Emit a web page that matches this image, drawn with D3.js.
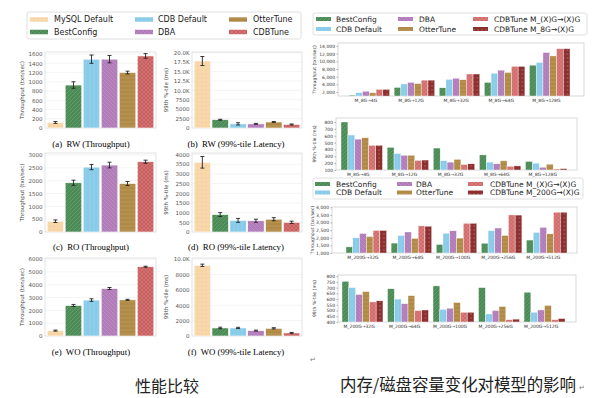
<!DOCTYPE html>
<html>
<head>
<meta charset="utf-8">
<script src="https://cdn.jsdelivr.net/npm/d3@7"></script>
<style>
  body { margin: 0; background: #fff; }
  svg { display: block; }
</style>
</head>
<body>
<script>
// ---- left panel: 6 systems, 3 workloads ----
const systems = ['MySQL Default', 'BestConfig', 'CDB Default', 'DBA', 'OtterTune', 'CDBTune'];

const rwThroughput = [120, 930, 1490, 1490, 1200, 1560];
const rwThroughputErr = [20, 70, 90, 80, 30, 50];
const rwLatency = [17800, 2200, 1100, 1100, 1600, 950];
const rwLatencyErr = [1200, 120, 300, 130, 120, 120];

const roThroughput = [420, 1920, 2530, 2610, 1890, 2740];
const roThroughputErr = [50, 100, 100, 110, 80, 60];
const roLatency = [3600, 900, 600, 580, 660, 500];
const roLatencyErr = [300, 100, 100, 80, 80, 60];

const woThroughput = [420, 2380, 2800, 3700, 2820, 5400];
const woThroughputErr = [40, 80, 100, 80, 40, 40];
const woLatency = [9200, 1050, 1050, 700, 1000, 400];
const woLatencyErr = [150, 100, 80, 60, 80, 60];

// ---- right panel: memory / disk size change ----
const memGroups = ['M_8G→4G', 'M_8G→12G', 'M_8G→32G', 'M_8G→64G', 'M_8G→128G'];
const diskGroups = ['M_200G→32G', 'M_200G→64G', 'M_200G→100G', 'M_200G→256G', 'M_200G→512G'];
const memTuners = ['BestConfig', 'CDB Default', 'DBA', 'OtterTune', 'CDBTune M_(X)G→(X)G', 'CDBTune M_8G→(X)G'];
const diskTuners = ['BestConfig', 'CDB Default', 'DBA', 'OtterTune', 'CDBTune M_(X)G→(X)G', 'CDBTune M_200G→(X)G'];

// one row per group, one value per tuner
const memThroughput = [
  [1200, 1800, 2200, 1800, 2700, 2700],
  [3200, 4100, 4500, 4200, 5100, 5100],
  [3100, 5300, 5600, 5200, 6700, 6700],
  [4500, 6900, 7700, 7100, 8700, 8700],
  [9000, 9700, 12300, 11400, 13300, 13300]
];
const memLatency = [
  [800, 610, 550, 570, 460, 460],
  [430, 340, 315, 315, 240, 245],
  [420, 235, 215, 255, 180, 190],
  [320, 215, 190, 235, 155, 160],
  [225, 200, 140, 185, 115, 120]
];
const diskThroughput = [
  [1400, 2000, 2280, 2080, 2480, 2480],
  [1650, 2150, 2380, 1960, 2780, 2760],
  [1560, 2300, 2460, 1980, 2950, 2950],
  [1640, 2470, 2640, 2150, 3500, 3490],
  [1850, 2350, 2680, 2260, 3680, 3680]
];
const diskLatency = [
  [755, 700, 640, 665, 575, 585],
  [690, 600, 560, 630, 500, 505],
  [715, 510, 520, 570, 485, 485],
  [700, 470, 500, 535, 420, 425],
  [660, 485, 505, 545, 420, 430]
];

const sans = "'DejaVu Sans', sans-serif";
const serif = "'Liberation Serif', 'DejaVu Serif', serif";

const svg = d3.select('body').append('svg')
  .attr('width', 600)
  .attr('height', 398)
  .style('font-family', sans);

const defs = svg.append('defs');

// hatch fills
function pattern(id, color, kind, ink) {
  let p = defs.append('pattern')
    .attr('id', id)
    .attr('patternUnits', 'userSpaceOnUse')
    .attr('width', 4)
    .attr('height', 4);
  p.append('rect').attr('width', 4).attr('height', 4).attr('fill', color);
  let s = ink || 'rgba(255,255,255,0.18)';
  let line = (d) => p.append('path').attr('d', d).attr('stroke', s).attr('stroke-width', 0.7).attr('fill', 'none');
  if (kind === 'dots') p.append('circle').attr('cx', 2).attr('cy', 2).attr('r', 0.7).attr('fill', s);
  if (kind === 'fwd') line('M-1,1L1,-1M0,4L4,0M3,5L5,3');
  if (kind === 'back') line('M-1,3L1,5M0,0L4,4M3,-1L5,1');
  if (kind === 'vert') line('M2,0L2,4');
  if (kind === 'horz') line('M0,2L4,2');
  if (kind === 'cross') { line('M-1,1L1,-1M0,4L4,0M3,5L5,3'); line('M-1,3L1,5M0,0L4,4M3,-1L5,1'); }
  return `url(#${id})`;
}

const sysFill = [
  pattern('p0', '#f8d8ab', 'dots', 'rgba(225,170,110,0.4)'),
  pattern('p1', '#4b8b55', 'fwd'),
  pattern('p2', '#88cbe8', 'vert'),
  pattern('p3', '#b17cb9', 'back'),
  pattern('p4', '#b08a45', 'horz'),
  pattern('p5', '#c95e5e', 'cross')
];
const tunerFill = [
  sysFill[1], sysFill[2], sysFill[3], sysFill[4],
  pattern('p6', '#d26a6a', 'cross'),
  pattern('p7', '#8d2f2f', 'dots', 'rgba(255,255,255,0.35)')
];

let fmtK = (v) => v >= 10000 ? (v / 1000).toFixed(1) + 'K' : String(v);

function leftChart(o) {
  let y = d3.scaleLinear().domain([0, o.max]).range([o.y1, o.y0]);
  let x = d3.scaleBand().domain(systems).range([o.x0, o.x1]).paddingInner(0.08).paddingOuter(0.12);
  let g = svg.append('g');

  g.selectAll('line.grid')
    .data(o.ticks)
    .join('line')
    .attr('x1', o.x0).attr('x2', o.x1)
    .attr('y1', (d) => y(d)).attr('y2', (d) => y(d))
    .attr('stroke', '#ededed')
    .attr('stroke-width', 0.6);

  g.append('rect')
    .attr('x', o.x0).attr('y', o.y0)
    .attr('width', o.x1 - o.x0).attr('height', o.y1 - o.y0)
    .attr('fill', 'none')
    .attr('stroke', '#dcdcdc')
    .attr('stroke-width', 0.8);

  let ax = g.append('g')
    .attr('transform', `translate(${o.x0},0)`)
    .call(d3.axisLeft(y).tickValues(o.ticks).tickSize(0).tickPadding(2.5).tickFormat(fmtK))
    .attr('font-size', 5.5)
    .attr('font-family', sans);
  ax.select('.domain').remove();
  ax.selectAll('text').attr('fill', '#555');

  g.selectAll('rect.bar')
    .data(o.values)
    .join('rect')
    .attr('class', 'bar')
    .attr('x', (d, i) => x(systems[i]))
    .attr('y', (d) => y(d))
    .attr('width', x.bandwidth())
    .attr('height', (d) => o.y1 - y(d))
    .attr('fill', (d, i) => sysFill[i])
    .attr('stroke', '#fff')
    .attr('stroke-width', 0.6);

  // error bars
  let eb = g.selectAll('g.err')
    .data(o.values)
    .join('g')
    .attr('stroke', '#222')
    .attr('stroke-width', 0.9);
  eb.append('line')
    .attr('x1', (d, i) => x(systems[i]) + x.bandwidth() / 2)
    .attr('x2', (d, i) => x(systems[i]) + x.bandwidth() / 2)
    .attr('y1', (d, i) => y(d - o.errs[i]))
    .attr('y2', (d, i) => y(d + o.errs[i]));
  [-1, 1].forEach((sgn) => {
    eb.append('line')
      .attr('x1', (d, i) => x(systems[i]) + x.bandwidth() / 2 - 2)
      .attr('x2', (d, i) => x(systems[i]) + x.bandwidth() / 2 + 2)
      .attr('y1', (d, i) => y(d + sgn * o.errs[i]))
      .attr('y2', (d, i) => y(d + sgn * o.errs[i]));
  });

  g.append('text')
    .attr('transform', `translate(${o.lx},${(o.y0 + o.y1) / 2}) rotate(-90)`)
    .attr('text-anchor', 'middle')
    .attr('font-size', 5.5)
    .attr('fill', '#444')
    .text(o.ylabel);

  g.append('text')
    .attr('x', o.tx).attr('y', o.ty)
    .attr('text-anchor', 'middle')
    .attr('font-family', serif)
    .attr('font-size', 8.8)
    .style('white-space', 'pre')
    .text(o.title);
}

const tpLabel = 'Throughput (txn/sec)';
const latLabel = '99th %-tile (ms)';

leftChart({ x0: 45, x1: 156, y0: 52, y1: 128, max: 1645, ticks: d3.range(0, 1601, 200),
  values: rwThroughput, errs: rwThroughputErr, ylabel: tpLabel, lx: 24,
  title: '(a)  RW (Throughput)', tx: 91, ty: 147 });
leftChart({ x0: 192, x1: 302, y0: 52, y1: 128, max: 20200, ticks: d3.range(0, 20001, 2500),
  values: rwLatency, errs: rwLatencyErr, ylabel: latLabel, lx: 168,
  title: '(b)  RW (99%-tile Latency)', tx: 236, ty: 147 });
leftChart({ x0: 45, x1: 156, y0: 153, y1: 232, max: 3080, ticks: d3.range(0, 3001, 500),
  values: roThroughput, errs: roThroughputErr, ylabel: tpLabel, lx: 24,
  title: '(c)  RO (Throughput)', tx: 91, ty: 250 });
leftChart({ x0: 192, x1: 302, y0: 153, y1: 232, max: 4080, ticks: d3.range(0, 4001, 500),
  values: roLatency, errs: roLatencyErr, ylabel: latLabel, lx: 168,
  title: '(d)  RO (99%-tile Latency)', tx: 236, ty: 250 });
leftChart({ x0: 45, x1: 156, y0: 258, y1: 336, max: 6080, ticks: d3.range(0, 6001, 1000),
  values: woThroughput, errs: woThroughputErr, ylabel: tpLabel, lx: 24,
  title: '(e)  WO (Throughput)', tx: 91, ty: 355 });
leftChart({ x0: 192, x1: 302, y0: 258, y1: 336, max: 10150, ticks: d3.range(0, 10001, 2000),
  values: woLatency, errs: woLatencyErr, ylabel: latLabel, lx: 168,
  title: '(f)  WO (99%-tile Latency)', tx: 236, ty: 355 });

// legend boxes, column-major like matplotlib ncol=3
function legend(o) {
  let g = svg.append('g');
  g.append('rect')
    .attr('x', o.x).attr('y', o.y)
    .attr('width', o.w).attr('height', o.h)
    .attr('rx', 2)
    .attr('fill', '#fff')
    .attr('stroke', '#d8d8d8')
    .attr('stroke-width', 0.8);
  o.names.forEach((name, i) => {
    let col = Math.floor(i / 2);
    let row = i % 2;
    let cy = o.rows[row];
    g.append('rect')
      .attr('x', o.sx[col]).attr('y', cy - o.sh / 2)
      .attr('width', o.sw).attr('height', o.sh)
      .attr('fill', o.fills[i]);
    g.append('text')
      .attr('x', o.tx[col]).attr('y', cy)
      .attr('dy', '0.35em')
      .attr('font-size', o.fs)
      .attr('fill', '#222')
      .text(name);
  });
}

legend({ x: 27, y: 12, w: 274, h: 27, rows: [19.5, 32], names: systems, fills: sysFill,
  sx: [30, 135, 229], tx: [54, 158, 253], sw: 18, sh: 4.5, fs: 8 });

function groupChart(o) {
  let y = d3.scaleLinear().domain(o.domain).range([o.y1, o.y0]);
  let x = d3.scaleBand().domain(o.groups).range([o.bx0, o.bx1]).paddingInner(0.1).paddingOuter(0);
  let xs = d3.scaleBand().domain(d3.range(6)).range([0, x.bandwidth()]);
  let g = svg.append('g');

  g.append('rect')
    .attr('x', o.x0).attr('y', o.y0)
    .attr('width', o.x1 - o.x0).attr('height', o.y1 - o.y0)
    .attr('fill', 'none')
    .attr('stroke', '#cfcfcf')
    .attr('stroke-width', 0.8);

  let ax = g.append('g')
    .attr('transform', `translate(${o.x0},0)`)
    .call(d3.axisLeft(y).tickValues(o.ticks).tickSize(1.5).tickPadding(1.5))
    .attr('font-size', 4.5)
    .attr('font-family', sans);
  ax.select('.domain').remove();
  ax.selectAll('line').attr('stroke', '#666').attr('stroke-width', 0.5);
  ax.selectAll('text').attr('fill', '#333');

  let grp = g.selectAll('g.grp')
    .data(o.values)
    .join('g')
    .attr('transform', (d, i) => `translate(${x(o.groups[i])},0)`);
  grp.selectAll('rect')
    .data((d) => d)
    .join('rect')
    .attr('x', (d, j) => xs(j))
    .attr('y', (d) => y(d))
    .attr('width', xs.bandwidth())
    .attr('height', (d) => o.y1 - y(d))
    .attr('fill', (d, j) => tunerFill[j])
    .attr('stroke', '#fff')
    .attr('stroke-width', 0.4);

  // category labels sit under the third bar of each group
  g.selectAll('text.cat')
    .data(o.groups)
    .join('text')
    .attr('x', (d) => x(d) + xs(2) + xs.bandwidth() / 2)
    .attr('y', o.y1 + 6)
    .attr('text-anchor', 'middle')
    .attr('font-size', 4.5)
    .attr('fill', '#333')
    .text((d) => d);

  g.append('text')
    .attr('transform', `translate(${o.lx},${(o.y0 + o.y1) / 2}) rotate(-90)`)
    .attr('text-anchor', 'middle')
    .attr('font-size', 4.6)
    .attr('fill', '#333')
    .text(o.ylabel);
}

legend({ x: 313, y: 13, w: 274, h: 22, rows: [19, 29], names: memTuners, fills: tunerFill,
  sx: [316, 398, 473], tx: [336, 419, 494], sw: 15, sh: 4, fs: 7.5 });

groupChart({ x0: 338, x1: 584, y0: 43, y1: 96, bx0: 349, bx1: 570, domain: [960, 14780],
  ticks: d3.range(2000, 14001, 2000), groups: memGroups, values: memThroughput, ylabel: tpLabel, lx: 316 });
groupChart({ x0: 336, x1: 577, y0: 118, y1: 170, bx0: 341, bx1: 567, domain: [100, 858],
  ticks: d3.range(100, 801, 100), groups: memGroups, values: memLatency, ylabel: latLabel, lx: 316 });

legend({ x: 313, y: 178, w: 270, h: 21, rows: [184, 192.5], names: diskTuners, fills: tunerFill,
  sx: [315, 397, 468], tx: [336, 416, 490], sw: 15, sh: 4, fs: 7.5 });

groupChart({ x0: 332, x1: 577, y0: 207, y1: 253, bx0: 346, bx1: 567, domain: [1000, 4020],
  ticks: d3.range(1000, 4001, 500), groups: diskGroups, values: diskThroughput, ylabel: tpLabel, lx: 314 });
groupChart({ x0: 338, x1: 576, y0: 275, y1: 322, bx0: 342, bx1: 565, domain: [400, 810],
  ticks: d3.range(400, 801, 50), groups: diskGroups, values: diskLatency, ylabel: latLabel, lx: 316 });

// captions
svg.append('text')
  .attr('x', 167).attr('y', 392)
  .attr('text-anchor', 'middle')
  .attr('font-family', "'Noto Sans CJK SC', sans-serif")
  .attr('font-size', 16)
  .attr('fill', '#222')
  .text('性能比较');

svg.append('text')
  .attr('x', 340).attr('y', 391)
  .attr('font-family', "'Noto Sans CJK SC', sans-serif")
  .attr('font-size', 16.5)
  .attr('textLength', 236)
  .attr('lengthAdjust', 'spacing')
  .attr('fill', '#222')
  .text('内存/磁盘容量变化对模型的影响');

svg.append('text')
  .attr('x', 579).attr('y', 390)
  .attr('font-size', 7)
  .attr('fill', '#777')
  .text('↵');
svg.append('text')
  .attr('x', 310).attr('y', 362)
  .attr('font-size', 7)
  .attr('fill', '#777')
  .text('↵');
</script>
</body>
</html>
